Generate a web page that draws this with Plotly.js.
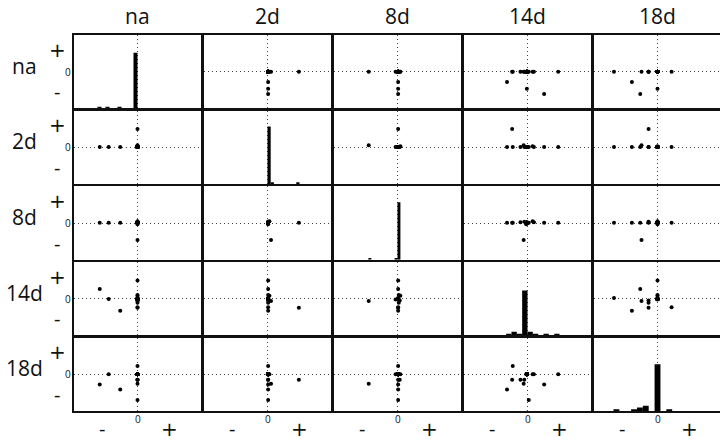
<!DOCTYPE html>
<html><head><meta charset="utf-8">
<script src="https://cdn.plot.ly/plotly-3.0.1.min.js"></script>
<style>html,body{margin:0;padding:0;background:#fff}#chart{width:720px;height:443px}</style>
</head><body><div id="chart"></div>
<script>
// variable names (rows / columns of the pairs matrix)
const labels = ['na', '2d', '8d', '14d', '18d'];
// one value per sample for each variable (34 samples)
const vNa  = [-0.59,-0.45,-0.27,0,0,0,0,0,0,0,0,0,0, 0,0,0,0,0,0,0,0,0,0,0,0,0,0,0,0,0,0,0,0,0];
const v2d  = [0.01,0.01,0.01,0.49,0.055,0.01,0.01,0.01,0.01,0.01,0.03,0.01,0.01, 0.01,0.01,0.01,0.01,0.01,0.01,0.01,0.01,0.01,0.01,0.01,0.01,0.01,0.01,0.01,0.01,0.01,0.01,0.01,0.01,0.01];
const v8d  = [0.01,0.01,0.01,0.01,-0.45,0.01,0.01,0.02,0.035,0.01,0.045,0.02,-0.03, 0.01,0.01,0.01,0.01,0.01,0.01,0.01,0.01,0.01,0.01,0.01,0.01,0.01,0.01,0.01,0.01,0.01,0.01,0.01,0.01,0.01];
const v14d = [0.26,-0.01,-0.32,-0.24,-0.06,0.02,-0.23,-0.11,-0.05,0.48,0.08,0.1,-0.02, -0.01,-0.01,-0.01,-0.01,-0.01,-0.01,-0.01,-0.01,-0.01,-0.01,-0.01,-0.01,-0.01,-0.01,-0.01,-0.01,-0.01,-0.01,-0.01,-0.01,-0.01];
const v18d = [-0.27,0,-0.40,-0.14,-0.25,-0.68,0.22,-0.14,-0.14,0,0,0,0, 0,0,0,0,0,0,0,0,0,0,0,0,0,0,0,0,0,0,0,0,0];
// histogram bins per variable (start, width), right-closed
const binStart = [-0.625, 0, -0.455, -1/3, -0.6875];
const binWidth = [0.0625, 0.05, 0.0455, 1/12, 0.0917];

const vars = [vNa, v2d, v8d, v14d, v18d];

function hist(vals, start, w) {
  const counts = {};
  vals.forEach(v => {
    const i = Math.ceil((v - start) / w - 1e-9) - 1;
    counts[i] = (counts[i] || 0) + 1;
  });
  const xs = [], ys = [];
  Object.keys(counts).forEach(k => { xs.push(start + (+k + 0.5) * w); ys.push(counts[k]); });
  return {xs, ys};
}

const W = 720, H = 443;
const colL = c => 74 + 130 * c;
const colR = c => Math.min(colL(c) + 127, 720);
const rowT = r => 35 + 75.65 * r;
const rowB = r => rowT(r) + 73.5;
const px = x => x / W, py = y => 1 - y / H;
const pxPerUnitX = 64, pxPerUnitY = 37.7;

const layout = {
  width: W, height: H, margin: {l: 0, r: 0, t: 0, b: 0},
  paper_bgcolor: '#fff', plot_bgcolor: '#fff', showlegend: false,
  font: {family: 'Open Sans, sans-serif', color: '#111'},
  annotations: []
};
const data = [];
const dotDash = '1px,3px';

for (let r = 0; r < 5; r++) {
  for (let c = 0; c < 5; c++) {
    const k = r * 5 + c + 1;
    const xs = k === 1 ? '' : k;
    const cx = colL(c) + 63.5;
    const xr = [(colL(c) - cx) / pxPerUnitX, (colR(c) - cx) / pxPerUnitX];
    const yhalf = 36.75 / pxPerUnitY;
    layout['xaxis' + xs] = {
      domain: [px(colL(c)), px(colR(c))], anchor: 'y' + xs, range: xr,
      tickvals: [0], showticklabels: false, ticks: '',
      showgrid: true, griddash: dotDash, gridcolor: '#444', gridwidth: 1,
      zeroline: false, showline: true, mirror: true, linecolor: '#111', linewidth: 2.2,
      fixedrange: true
    };
    layout['yaxis' + xs] = {
      domain: [py(rowB(r)), py(rowT(r))], anchor: 'x' + xs,
      range: r === c ? [0, 40.8] : [-yhalf, yhalf],
      tickvals: r === c ? [] : [0], showticklabels: false, ticks: '',
      showgrid: r !== c, griddash: dotDash, gridcolor: '#444', gridwidth: 1,
      zeroline: false, showline: true, mirror: c !== 4, linecolor: '#111', linewidth: 2.2,
      fixedrange: true
    };
    if (r === c) {
      const h = hist(vars[r], binStart[r], binWidth[r]);
      data.push({type: 'bar', x: h.xs, y: h.ys, width: binWidth[r],
        marker: {color: '#000', line: {width: 0}}, xaxis: 'x' + xs, yaxis: 'y' + xs, hoverinfo: 'skip'});
    } else {
      data.push({type: 'scatter', mode: 'markers', x: vars[c], y: vars[r],
        marker: {color: '#000', size: 4}, xaxis: 'x' + xs, yaxis: 'y' + xs, cliponaxis: true, hoverinfo: 'skip'});
    }
  }
}

const signFont = {size: 20, family: 'DejaVu Sans, sans-serif', color: '#111'};
// column headers and bottom labels
for (let c = 0; c < 5; c++) {
  const cx = colL(c) + 63.5;
  layout.annotations.push({text: labels[c], x: px(cx), y: py(16), xref: 'paper', yref: 'paper',
    xanchor: 'center', yanchor: 'middle', showarrow: false, font: {size: 21}});
  layout.annotations.push({text: '0', x: px(cx), y: py(419), xref: 'paper', yref: 'paper',
    xanchor: 'center', yanchor: 'middle', showarrow: false, font: {size: 10}});
  layout.annotations.push({text: '-', x: px(cx - 35.7), y: py(428), xref: 'paper', yref: 'paper',
    xanchor: 'center', yanchor: 'middle', showarrow: false, font: {size: 20}});
  layout.annotations.push({text: '+', x: px(cx + 31.5), y: py(429), xref: 'paper', yref: 'paper',
    xanchor: 'center', yanchor: 'middle', showarrow: false, font: signFont});
}
// row headers and left labels
for (let r = 0; r < 5; r++) {
  const cy = rowT(r) + 36.75;
  layout.annotations.push({text: labels[r], x: px(24.5), y: py(cy - 6), xref: 'paper', yref: 'paper',
    xanchor: 'center', yanchor: 'middle', showarrow: false, font: {size: 21}});
  layout.annotations.push({text: '0', x: px(68), y: py(cy), xref: 'paper', yref: 'paper',
    xanchor: 'center', yanchor: 'middle', showarrow: false, font: {size: 10}});
  layout.annotations.push({text: '+', x: px(57), y: py(cy - 22), xref: 'paper', yref: 'paper',
    xanchor: 'center', yanchor: 'middle', showarrow: false, font: signFont});
  layout.annotations.push({text: '-', x: px(57), y: py(cy + 20), xref: 'paper', yref: 'paper',
    xanchor: 'center', yanchor: 'middle', showarrow: false, font: {size: 20}});
}

Plotly.newPlot('chart', data, layout, {staticPlot: true, displayModeBar: false});
</script>
</body></html>
